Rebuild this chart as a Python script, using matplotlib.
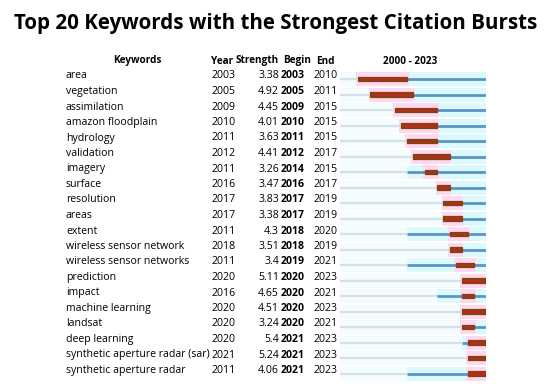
import matplotlib
matplotlib.use("Agg")
import matplotlib.pyplot as plt
from matplotlib.patches import Rectangle

keywords = ["area", "vegetation", "assimilation", "amazon floodplain", "hydrology",
            "validation", "imagery", "surface", "resolution", "areas", "extent",
            "wireless sensor network", "wireless sensor networks", "prediction",
            "impact", "machine learning", "landsat", "deep learning",
            "synthetic aperture radar (sar)", "synthetic aperture radar"]
years = [2003, 2005, 2009, 2010, 2011, 2012, 2011, 2016, 2017, 2017, 2011,
         2018, 2011, 2020, 2016, 2020, 2020, 2020, 2021, 2011]
strength = ["3.38", "4.92", "4.45", "4.01", "3.63", "4.41", "3.26", "3.47", "3.83",
            "3.38", "4.3", "3.51", "3.4", "5.11", "4.65", "4.51", "3.24", "5.4",
            "5.24", "4.06"]
begin = [2003, 2005, 2009, 2010, 2011, 2012, 2014, 2016, 2017, 2017, 2018,
         2018, 2019, 2020, 2020, 2020, 2020, 2021, 2021, 2021]
end = [2010, 2011, 2015, 2015, 2015, 2017, 2015, 2017, 2019, 2019, 2020,
       2019, 2021, 2023, 2021, 2023, 2021, 2023, 2023, 2023]
start_year, end_year = 2000, 2023

W, H = 550, 385
fig = plt.figure(figsize=(W / 100, H / 100), dpi=100)
fig.patch.set_facecolor("white")

fam = ["Open Sans", "DejaVu Sans"]
ax = fig.add_axes([0, 0, 1, 1])
ax.set_xlim(0, W)
ax.set_ylim(H, 0)
ax.axis("off")

ax.text(276, 23, "Top 20 Keywords with the Strongest Citation Bursts",
        ha="center", va="center", fontsize=14.8, fontweight="bold", family=fam)

y0, dy = 76, 15.5
hy = 61
fs = 7.6
hfs = 7.2
ax.text(137, hy, "Keywords", ha="center", va="center", fontsize=hfs, fontweight="bold", family=fam)
ax.text(211, hy, "Year", ha="left", va="center", fontsize=hfs, fontweight="bold", family=fam)
ax.text(236, hy, "Strength", ha="left", va="center", fontsize=hfs, fontweight="bold", family=fam)
ax.text(283, hy, "Begin", ha="left", va="center", fontsize=hfs, fontweight="bold", family=fam)
ax.text(316, hy, "End", ha="left", va="center", fontsize=hfs, fontweight="bold", family=fam)
ax.text(410, hy, "%d - %d" % (start_year, end_year), ha="center", va="center",
        fontsize=hfs, fontweight="bold", family=fam)

for i, kw in enumerate(keywords):
    y = y0 + i * dy
    ax.text(66, y, kw, ha="left", va="center", fontsize=fs, family=fam)
    ax.text(211, y, str(years[i]), ha="left", va="center", fontsize=fs, family=fam)
    ax.text(279, y, strength[i], ha="right", va="center", fontsize=fs, family=fam)
    ax.text(281, y, str(begin[i]), ha="left", va="center", fontsize=fs, fontweight="bold", family=fam)
    ax.text(314, y, str(end[i]), ha="left", va="center", fontsize=fs, family=fam)

# timeline axes
tx0, tx1 = 340, 486
ax2 = fig.add_axes([tx0 / W, 0, (tx1 - tx0) / W, 1])
ax2.set_xlim(start_year, end_year + 1)
ax2.set_ylim(H, 0)
ax2.axis("off")
ax2.patch.set_alpha(0)

by0 = 79
rh = 14
for i in range(len(keywords)):
    y = by0 + i * dy
    ax2.add_patch(Rectangle((start_year, y - rh / 2), end_year + 1 - start_year, rh,
                            facecolor="#f4fcfd", edgecolor="none", zorder=0))
    ax2.add_patch(Rectangle((years[i], y - rh / 2), end_year + 1 - years[i], rh,
                            facecolor="#dcfafd", edgecolor="none", zorder=1))
    px0 = max(start_year, begin[i] - 0.3)
    px1 = min(end_year + 1.3, end[i] + 1.3)
    ax2.add_patch(Rectangle((px0, y - rh / 2), px1 - px0, rh,
                            facecolor="#ffd8ef", edgecolor="none", zorder=2))
    ax2.plot([start_year, years[i]], [y, y], color="#d5e1e8", lw=1.6,
             solid_capstyle="butt", zorder=3)
    ax2.plot([years[i], end_year + 1], [y, y], color="#5b94c4", lw=2.0,
             solid_capstyle="butt", zorder=3)
    ax2.add_patch(Rectangle((begin[i], y - 2.1), end[i] + 1 - begin[i], 4.2,
                            facecolor="#b22e18", edgecolor="#6f4a12", lw=0.9, zorder=4))

fig.savefig("out.png", dpi=100)
